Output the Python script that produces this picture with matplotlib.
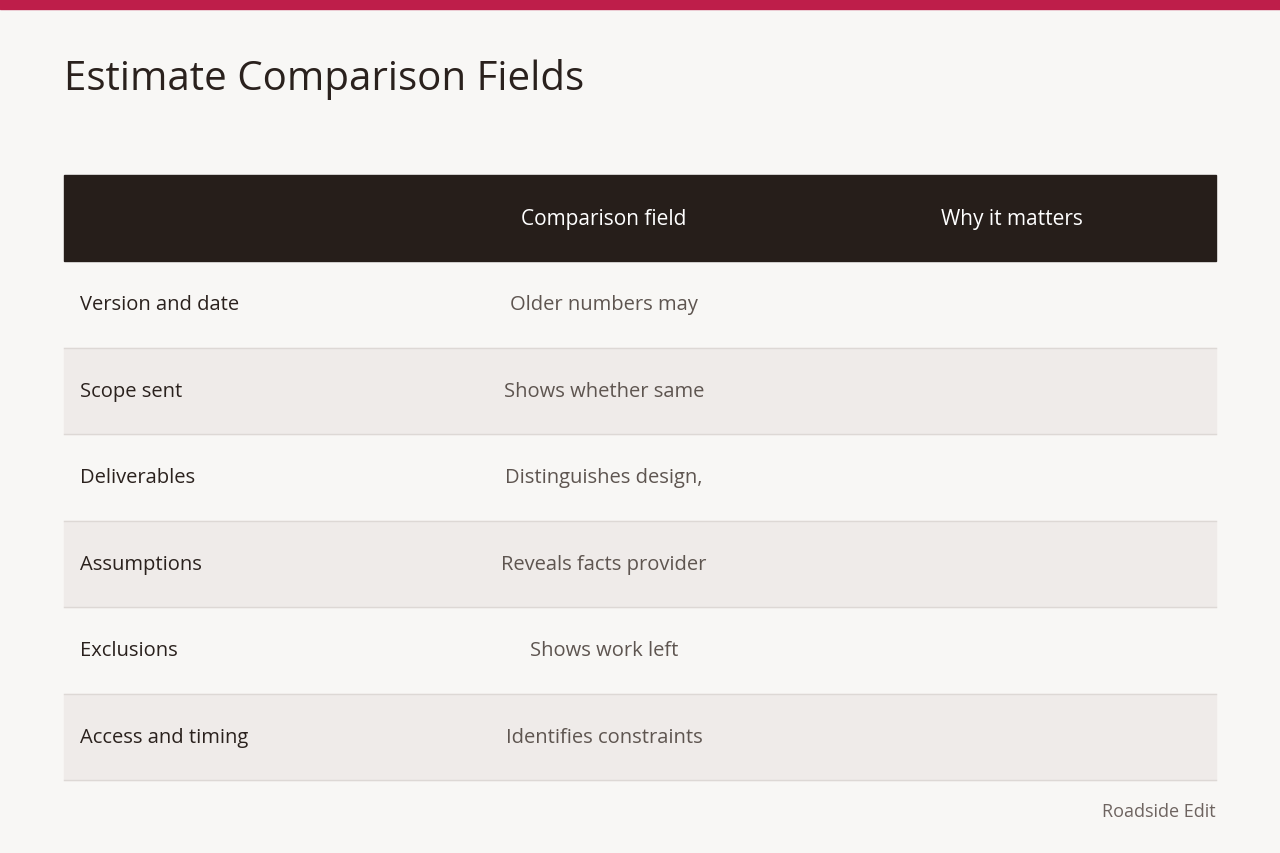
import matplotlib
matplotlib.use("Agg")
import matplotlib.pyplot as plt
from matplotlib.patches import Rectangle

title = "Estimate Comparison Fields"
headers = ["", "Comparison field", "Why it matters"]
row_labels = ["Version and date", "Scope sent", "Deliverables", "Assumptions", "Exclusions", "Access and timing"]
field_text = ["Older numbers may", "Shows whether same", "Distinguishes design,", "Reveals facts provider", "Shows work left", "Identifies constraints"]
why_text = ["", "", "", "", "", ""]
footer = "Roadside Edit"

plt.rcParams['font.family'] = ['Open Sans', 'DejaVu Sans']
fig = plt.figure(figsize=(12.8, 8.54), dpi=100, facecolor="#F8F7F5")
ax = fig.add_axes([0, 0, 1, 1])
ax.set_xlim(0, 1280); ax.set_ylim(854, 0); ax.axis("off")

ax.add_patch(Rectangle((0, 0), 1280, 10, color="#BE1E4A"))
ax.text(64, 80, title, fontsize=29, color="#2A211D", va="center", ha="left")

x0, x1 = 64, 1216
top, hh, rh = 176, 86, 86.5
ax.add_patch(Rectangle((x0, top), x1 - x0, hh, color="#261E1A"))
colx = [80, 604, 1012]
for i, h in enumerate(headers):
    if h:
        ax.text(colx[i], top + hh / 2, h, fontsize=15, color="white", ha="center", va="center")

for r, (lab, f, w) in enumerate(zip(row_labels, field_text, why_text)):
    y = top + hh + r * rh
    if r % 2 == 1:
        ax.add_patch(Rectangle((x0, y), x1 - x0, rh, color="#EFEBE9"))
    ax.plot([x0, x1], [y + rh, y + rh], color="#DDD8D5", lw=1)
    ax.text(colx[0], y + rh / 2, lab, fontsize=14.5, color="#2A211D", ha="left", va="center")
    ax.text(colx[1], y + rh / 2, f, fontsize=14.5, color="#5E5550", ha="center", va="center")
    ax.text(colx[2], y + rh / 2, w, fontsize=14.5, color="#5E5550", ha="center", va="center")

ax.text(x1, 812, footer, fontsize=13, color="#6E6460", ha="right", va="center")
fig.savefig("out.png", dpi=100, facecolor=fig.get_facecolor())
